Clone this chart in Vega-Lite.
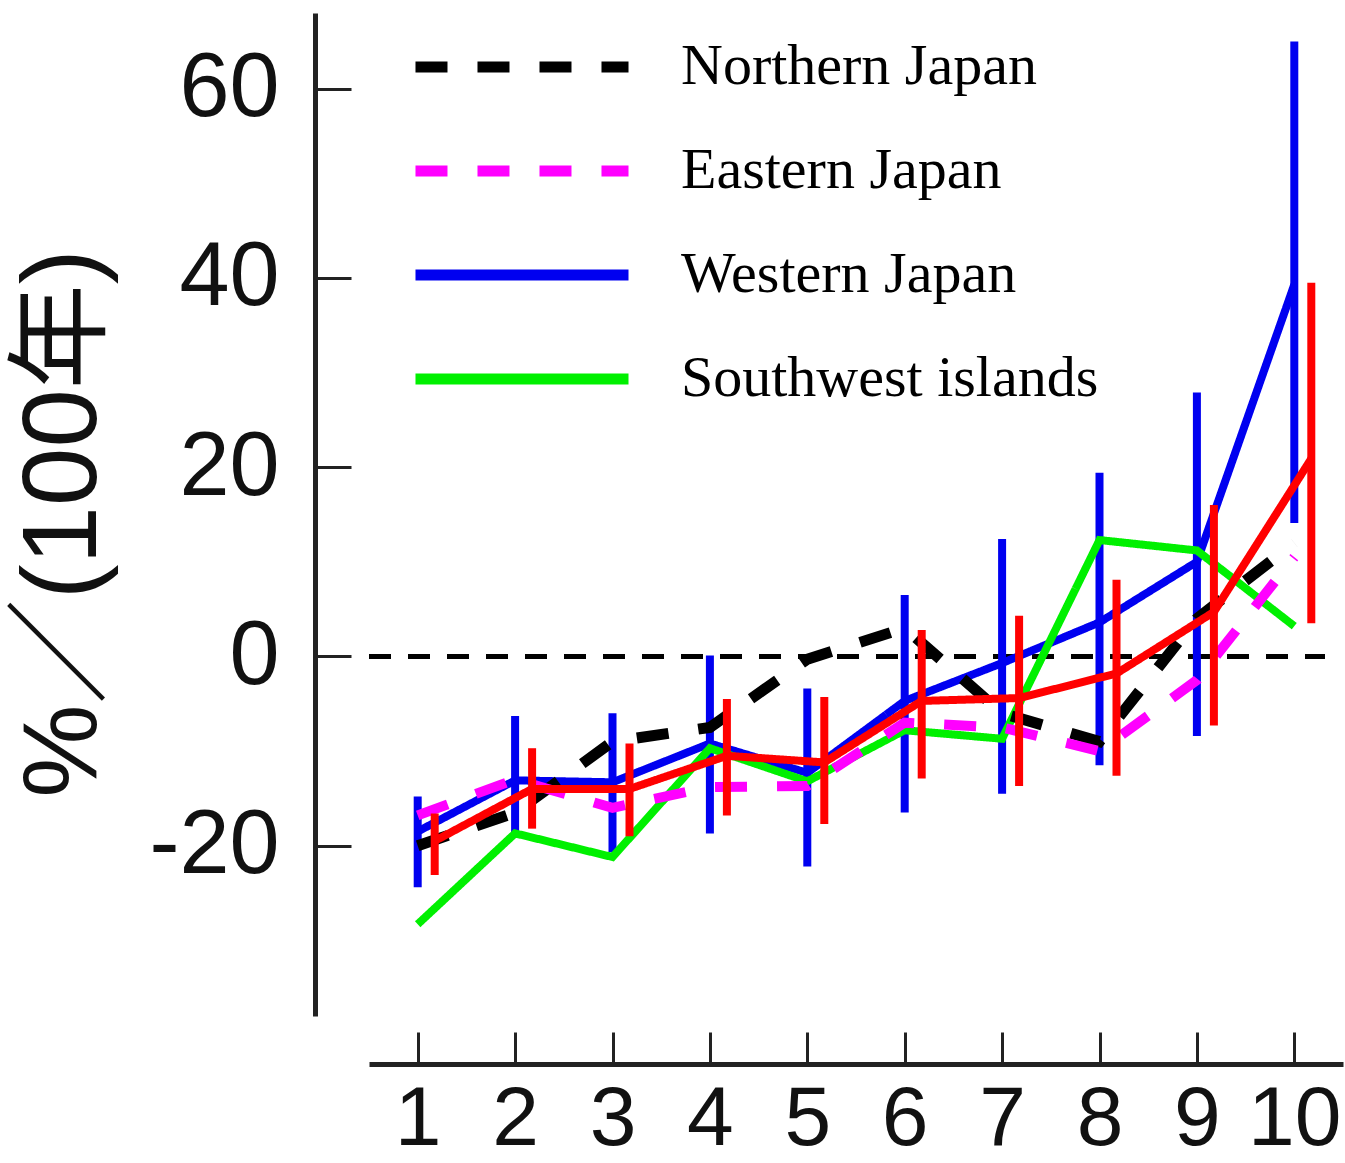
{
  "$schema": "https://vega.github.io/schema/vega-lite/v6.json",
  "width": 974,
  "height": 1003,
  "autosize": {"type": "none"},
  "padding": {"left": 369, "top": 13, "right": 2, "bottom": 147},
  "background": "white",
  "config": {"view": {"stroke": null}, "axis": {"grid": false}},
  "data": {
    "values": [
      {"region": "Northern Japan", "rank": 1, "value": -20},
      {"region": "Northern Japan", "rank": 2, "value": -16.5},
      {"region": "Northern Japan", "rank": 3, "value": -9},
      {"region": "Northern Japan", "rank": 4, "value": -7.5},
      {"region": "Northern Japan", "rank": 5, "value": -0.3},
      {"region": "Northern Japan", "rank": 6, "value": 3},
      {"region": "Northern Japan", "rank": 7, "value": -6},
      {"region": "Northern Japan", "rank": 8, "value": -9},
      {"region": "Northern Japan", "rank": 9, "value": 4},
      {"region": "Northern Japan", "rank": 10, "value": 12},
      {"region": "Eastern Japan", "rank": 1, "value": -16.8},
      {"region": "Eastern Japan", "rank": 2, "value": -13},
      {"region": "Eastern Japan", "rank": 3, "value": -16},
      {"region": "Eastern Japan", "rank": 4, "value": -13.8},
      {"region": "Eastern Japan", "rank": 5, "value": -13.7},
      {"region": "Eastern Japan", "rank": 6, "value": -7},
      {"region": "Eastern Japan", "rank": 7, "value": -7.5},
      {"region": "Eastern Japan", "rank": 8, "value": -10},
      {"region": "Eastern Japan", "rank": 9, "value": -2.5},
      {"region": "Eastern Japan", "rank": 10, "value": 10.5},
      {"region": "Western Japan", "rank": 1, "value": -18.5, "lo": -24.4, "hi": -14.8},
      {"region": "Western Japan", "rank": 2, "value": -13.1, "lo": -18.6, "hi": -6.3},
      {"region": "Western Japan", "rank": 3, "value": -13.3, "lo": -20.7, "hi": -6.0},
      {"region": "Western Japan", "rank": 4, "value": -9.2, "lo": -18.7, "hi": 0.1},
      {"region": "Western Japan", "rank": 5, "value": -12.3, "lo": -22.2, "hi": -3.4},
      {"region": "Western Japan", "rank": 6, "value": -4.7, "lo": -16.5, "hi": 6.5},
      {"region": "Western Japan", "rank": 7, "value": -0.7, "lo": -14.5, "hi": 12.4},
      {"region": "Western Japan", "rank": 8, "value": 3.6, "lo": -11.5, "hi": 19.4},
      {"region": "Western Japan", "rank": 9, "value": 10.0, "lo": -8.4, "hi": 27.9},
      {"region": "Western Japan", "rank": 10, "value": 39.3, "lo": 14.1, "hi": 65.0},
      {"region": "Southwest islands", "rank": 1, "value": -28.3},
      {"region": "Southwest islands", "rank": 2, "value": -18.7},
      {"region": "Southwest islands", "rank": 3, "value": -21.2},
      {"region": "Southwest islands", "rank": 4, "value": -9.7},
      {"region": "Southwest islands", "rank": 5, "value": -13.2},
      {"region": "Southwest islands", "rank": 6, "value": -7.8},
      {"region": "Southwest islands", "rank": 7, "value": -8.7},
      {"region": "Southwest islands", "rank": 8, "value": 12.3},
      {"region": "Southwest islands", "rank": 9, "value": 11.2},
      {"region": "Southwest islands", "rank": 10, "value": 3.2},
      {"region": "全国", "rank": 1, "value": -19.5, "lo": -23.1, "hi": -16.6},
      {"region": "全国", "rank": 2, "value": -14.0, "lo": -18.2, "hi": -9.7},
      {"region": "全国", "rank": 3, "value": -14.0, "lo": -19.0, "hi": -9.2},
      {"region": "全国", "rank": 4, "value": -10.5, "lo": -16.8, "hi": -4.5},
      {"region": "全国", "rank": 5, "value": -11.2, "lo": -17.7, "hi": -4.3},
      {"region": "全国", "rank": 6, "value": -4.7, "lo": -12.9, "hi": 2.8},
      {"region": "全国", "rank": 7, "value": -4.4, "lo": -13.7, "hi": 4.3},
      {"region": "全国", "rank": 8, "value": -1.8, "lo": -12.6, "hi": 8.1},
      {"region": "全国", "rank": 9, "value": 4.7, "lo": -7.3, "hi": 16.0},
      {"region": "全国", "rank": 10, "value": 20.9, "lo": 3.5, "hi": 39.5}
    ]
  },
  "encoding": {
    "x": {
      "field": "rank",
      "type": "quantitative",
      "scale": {"domain": [0.5, 10.5], "nice": false, "zero": false},
      "axis": {
        "title": null,
        "values": [1, 2, 3, 4, 5, 6, 7, 8, 9, 10],
        "offset": 48,
        "domainColor": "#222222",
        "domainWidth": 5,
        "tickColor": "#222222",
        "tickWidth": 3,
        "tickSize": -32,
        "labelFont": "Liberation Sans",
        "labelFontSize": 84,
        "labelColor": "#111111",
        "labelPadding": 46,
        "labelFlush": false,
        "labelOverlap": false,
        "labelBound": false
      }
    }
  },
  "layer": [
    {
      "mark": {"type": "rule", "color": "black", "strokeWidth": 3.5, "strokeDash": [22, 17]},
      "encoding": {
        "x": {"datum": 0.5, "type": "quantitative"},
        "x2": {"datum": 10.31},
        "y": {
          "datum": 0,
          "type": "quantitative",
          "scale": {"domain": [-38, 68], "nice": false, "zero": false},
          "axis": {
            "title": "%／(100年)",
            "titleFont": "Liberation Sans, Noto Sans CJK JP",
            "titleFontSize": 105,
            "titleFontWeight": "normal",
            "titleColor": "#111111",
            "titleBaseline": "alphabetic",
            "titlePadding": 53,
            "titleY": 510,
            "values": [-20, 0, 20, 40, 60],
            "labelExpr": "datum.value < 0 ? '-' + abs(datum.value) : '' + datum.value",
            "offset": 54,
            "domainColor": "#222222",
            "domainWidth": 5,
            "tickColor": "#222222",
            "tickWidth": 3,
            "tickSize": -36,
            "labelFont": "Liberation Sans",
            "labelFontSize": 90,
            "labelColor": "#111111",
            "labelPadding": 72,
            "labelFlush": false,
            "labelOverlap": false,
            "labelBound": false
          }
        }
      }
    },
    {
      "transform": [{"filter": "datum.region === 'Western Japan'"}],
      "mark": {"type": "rule", "color": "#0000f0", "strokeWidth": 8},
      "encoding": {
        "y": {"field": "lo", "type": "quantitative"},
        "y2": {"field": "hi"}
      }
    },
    {
      "transform": [{"filter": "datum.region === 'Western Japan'"}],
      "mark": {"type": "line", "strokeWidth": 8},
      "encoding": {
        "y": {"field": "value", "type": "quantitative"},
        "color": {"field": "region", "type": "nominal"},
        "strokeDash": {"field": "region", "type": "nominal"}
      }
    },
    {
      "transform": [{"filter": "datum.region === 'Southwest islands'"}],
      "mark": {"type": "line", "strokeWidth": 8},
      "encoding": {
        "y": {"field": "value", "type": "quantitative"},
        "color": {"field": "region", "type": "nominal"},
        "strokeDash": {"field": "region", "type": "nominal"}
      }
    },
    {
      "transform": [{"filter": "datum.region === 'Northern Japan'"}],
      "mark": {"type": "line", "strokeWidth": 11},
      "encoding": {
        "y": {"field": "value", "type": "quantitative"},
        "color": {"field": "region", "type": "nominal"},
        "strokeDash": {"field": "region", "type": "nominal"}
      }
    },
    {
      "transform": [{"filter": "datum.region === 'Eastern Japan'"}],
      "mark": {"type": "line", "strokeWidth": 10},
      "encoding": {
        "y": {"field": "value", "type": "quantitative"},
        "color": {"field": "region", "type": "nominal"},
        "strokeDash": {"field": "region", "type": "nominal"}
      }
    },
    {
      "transform": [{"filter": "datum.region === '全国'"}],
      "mark": {"type": "rule", "color": "#ff0000", "strokeWidth": 8, "xOffset": 17},
      "encoding": {
        "y": {"field": "lo", "type": "quantitative"},
        "y2": {"field": "hi"}
      }
    },
    {
      "transform": [{"filter": "datum.region === '全国'"}],
      "mark": {"type": "line", "strokeWidth": 8, "xOffset": 17},
      "encoding": {
        "y": {"field": "value", "type": "quantitative"},
        "color": {
          "field": "region",
          "type": "nominal",
          "scale": {
            "domain": ["Northern Japan", "Eastern Japan", "Western Japan", "Southwest islands", "全国"],
            "range": ["#000000", "#ff00ff", "#0000f0", "#00f000", "#ff0000"]
          },
          "legend": {
            "values": ["Northern Japan", "Eastern Japan", "Western Japan", "Southwest islands"],
            "title": null,
            "orient": "none",
            "legendX": 124,
            "legendY": 25,
            "symbolType": "M-8,0H8",
            "symbolSize": 709,
            "symbolStrokeWidth": 11,
            "labelFont": "Liberation Serif",
            "labelFontSize": 58,
            "labelColor": "#000000",
            "labelLimit": 800,
            "labelOffset": 130,
            "rowPadding": 46,
            "padding": 0
          }
        },
        "strokeDash": {
          "field": "region",
          "type": "nominal",
          "scale": {
            "domain": ["Northern Japan", "Eastern Japan", "Western Japan", "Southwest islands", "全国"],
            "range": [[32, 30], [32, 30], [1, 0], [1, 0], [1, 0]]
          },
          "legend": {
            "values": ["Northern Japan", "Eastern Japan", "Western Japan", "Southwest islands"],
            "title": null,
            "orient": "none",
            "legendX": 124,
            "legendY": 25,
            "symbolType": "M-8,0H8",
            "symbolSize": 709,
            "symbolStrokeWidth": 11,
            "labelFont": "Liberation Serif",
            "labelFontSize": 58,
            "labelColor": "#000000",
            "labelLimit": 800,
            "labelOffset": 130,
            "rowPadding": 46,
            "padding": 0
          }
        }
      }
    }
  ]
}
